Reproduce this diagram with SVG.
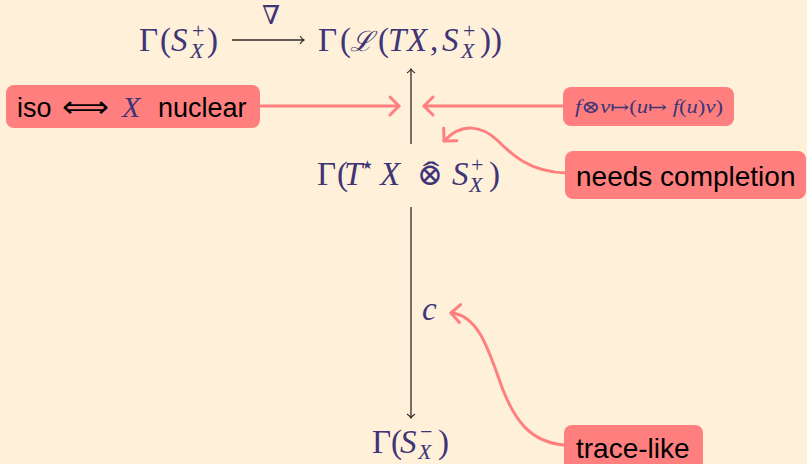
<svg xmlns="http://www.w3.org/2000/svg" width="807" height="464" viewBox="0 0 807 464">
<defs>
<style>
.m{font-family:"Liberation Serif","DejaVu Serif",serif;font-size:33px;fill:#403577}
.i{font-style:italic}
.s{font-size:22px}
.b{font-family:"Liberation Sans","DejaVu Sans",sans-serif;font-size:28px;fill:#000}
.box{fill:#FF7F7F}
.pk{fill:none;stroke:#FF7F7F;stroke-width:3;stroke-linecap:round}
.bk{fill:none;stroke:#2e2a28;stroke-width:1.3}
</style>
<marker id="ph" markerUnits="userSpaceOnUse" markerWidth="22" markerHeight="22" refX="11" refY="11" orient="auto" overflow="visible">
<path d="M2,2 L11,11 L2,20" fill="none" stroke="#FF7F7F" stroke-width="3" stroke-linecap="round" stroke-linejoin="round"/>
</marker>
<marker id="bh" markerUnits="userSpaceOnUse" markerWidth="10" markerHeight="10" refX="5" refY="5" orient="auto" overflow="visible">
<path d="M1,1 Q3,4 5,5 Q3,6 1,9" fill="none" stroke="#2e2a28" stroke-width="1.1"/>
</marker>
</defs>
<rect width="807" height="464" fill="#FFF0DA"/>

<g id="connectors">
<line class="bk" x1="232" y1="40" x2="304" y2="40" marker-end="url(#bh)"/>
<text class="m" x="271" y="24" text-anchor="middle" style="font-family:'DejaVu Serif',serif;font-size:26px">∇</text>
<line class="bk" x1="411" y1="144" x2="411" y2="69" marker-end="url(#bh)"/>
<line class="bk" x1="411" y1="207" x2="411" y2="418" marker-end="url(#bh)"/>
<text class="m i" x="422" y="320">c</text>
<line class="pk" x1="260" y1="106" x2="399" y2="106" marker-end="url(#ph)"/>
<line class="pk" x1="563" y1="106" x2="424" y2="106" marker-end="url(#ph)"/>
<path class="pk" d="M566,173 C530,172 512,155 497,140 C482,126 462,122 444,141" marker-end="url(#ph)"/>
<path class="pk" d="M564,445 C530,442 515,420 503,390 C490,355 480,315 451,313" marker-end="url(#ph)"/>
</g>

<g id="n-gamma-splus">
<text class="m" x="139" y="51">Γ</text>
<text class="m" x="160" y="51">(</text>
<text class="m i" x="171" y="51">S</text>
<text class="m s" x="192" y="38">+</text>
<text class="m s i" x="190" y="58">X</text>
<text class="m" x="207" y="51">)</text>
</g>

<g id="n-gamma-L">
<text class="m" x="318" y="51">Γ</text>
<text class="m" x="340" y="51">(</text>
<text class="m i" x="350" y="51" style="font-size:28px">ℒ</text>
<text class="m" x="378" y="51">(</text>
<text class="m i" x="388" y="51">T</text>
<text class="m i" x="407" y="51">X</text>
<text class="m" x="430" y="51">,</text>
<text class="m i" x="442" y="51">S</text>
<text class="m s" x="463" y="38">+</text>
<text class="m s i" x="461" y="58">X</text>
<text class="m" x="480" y="51">)</text>
<text class="m" x="491" y="51">)</text>
</g>

<g id="n-gamma-tensor">
<text class="m" x="317" y="185">Γ</text>
<text class="m" x="337" y="185">(</text>
<text class="m i" x="344" y="185">T</text>
<text class="m" x="362" y="169" style="font-family:'DejaVu Sans',sans-serif;font-size:12px">★</text>
<text class="m i" x="380" y="185">X</text>
<text class="m" x="430" y="185" text-anchor="middle" style="font-size:31px">⊗</text>
<text class="m" transform="translate(431,182) scale(1.7,1)" text-anchor="middle" style="font-size:30px">ˆ</text>
<text class="m i" x="452" y="185">S</text>
<text class="m s" x="471" y="172">+</text>
<text class="m s i" x="469" y="192">X</text>
<text class="m" x="489" y="185">)</text>
</g>

<g id="n-gamma-sminus">
<text class="m" x="372" y="453">Γ</text>
<text class="m" x="391" y="453">(</text>
<text class="m i" x="400" y="453">S</text>
<text class="m s" x="420" y="439">−</text>
<text class="m s i" x="418" y="459">X</text>
<text class="m" x="438" y="453">)</text>
</g>

<g id="n-iso">
<rect class="box" x="6" y="85" width="254" height="43" rx="8"/>
<text class="b" x="17" y="117" style="font-size:27px">iso</text>
<text class="b" x="62" y="117" style="font-family:'DejaVu Sans',sans-serif;font-size:30px;font-weight:300" textLength="47" lengthAdjust="spacingAndGlyphs">⟺</text>
<text class="m i" x="122" y="117" style="font-size:30px">X</text>
<text class="b" x="158" y="117" style="font-size:27px">nuclear</text>
</g>

<g id="n-formula">
<rect class="box" x="563" y="87" width="171" height="39" rx="8"/>
<text class="m" x="575" y="113" style="font-size:18px" textLength="148" lengthAdjust="spacingAndGlyphs"><tspan class="i">f</tspan>⊗<tspan class="i">v</tspan>↦(<tspan class="i">u</tspan>↦ <tspan class="i">f</tspan>(<tspan class="i">u</tspan>)<tspan class="i">v</tspan>)</text>
</g>

<g id="n-needs">
<rect class="box" x="565" y="151" width="241" height="48" rx="8"/>
<text class="b" x="576" y="186">needs completion</text>
</g>

<g id="n-trace">
<rect class="box" x="564" y="425" width="139" height="48" rx="8"/>
<text class="b" x="576" y="458">trace-like</text>
</g>
</svg>
